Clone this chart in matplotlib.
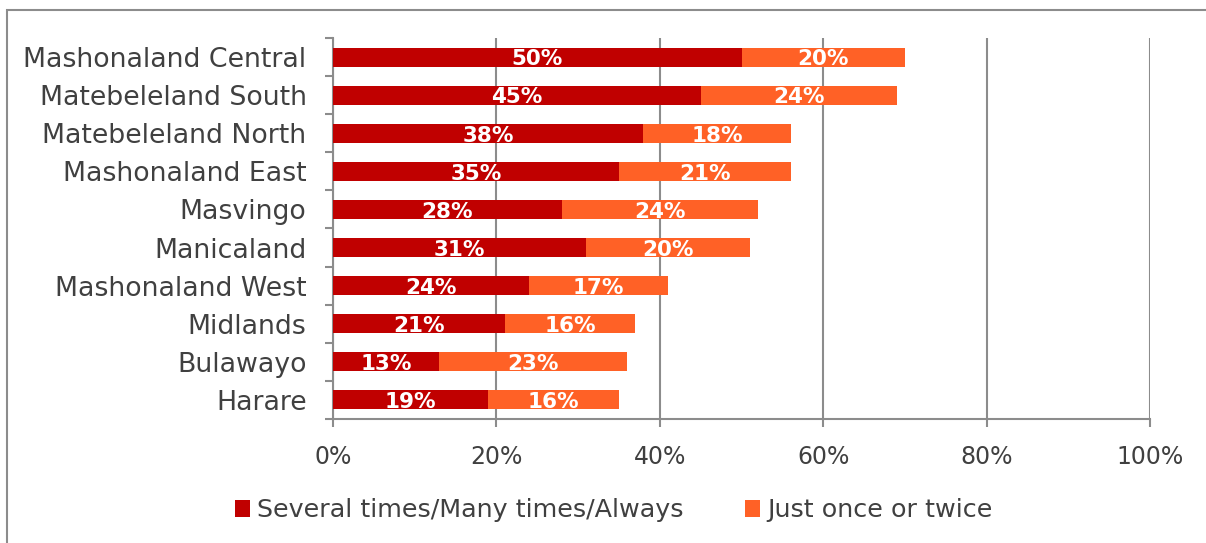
import matplotlib.pyplot as plt
from matplotlib.patches import Rectangle

regions = ['Mashonaland Central', 'Matebeleland South', 'Matebeleland North',
           'Mashonaland East', 'Masvingo', 'Manicaland', 'Mashonaland West',
           'Midlands', 'Bulawayo', 'Harare']
several = [50, 45, 38, 35, 28, 31, 24, 21, 13, 19]
once = [20, 24, 18, 21, 24, 20, 17, 16, 23, 16]
series_names = ['Several times/Many times/Always', 'Just once or twice']
xticks = [0, 20, 40, 60, 80, 100]

dark_red = '#C00000'
orange = '#FF6126'
grey = '#8C8C8C'
text_col = '#404040'

plt.rcParams['font.family'] = ['DejaVu Sans']

fig = plt.figure(figsize=(12.06, 5.43), dpi=100)
ax = fig.add_axes([0.2761, 0.2284, 0.6775, 0.7016])

y = list(range(len(regions)))
ax.barh(y, several, height=0.5, color=dark_red, label=series_names[0], zorder=3)
ax.barh(y, once, left=several, height=0.5, color=orange, label=series_names[1], zorder=3)

for i in y:
    ax.text(several[i] / 2, i + 0.06, f'{several[i]}%', ha='center', va='center',
            color='white', fontsize=15.5, fontweight='bold', zorder=4)
    ax.text(several[i] + once[i] / 2, i + 0.06, f'{once[i]}%', ha='center', va='center',
            color='white', fontsize=15.5, fontweight='bold', zorder=4)

ax.set_xlim(0, 100)
ax.set_ylim(len(regions) - 0.5, -0.5)
ax.set_xticks(xticks)
ax.set_xticklabels([f'{v}%' for v in xticks], fontsize=17, color=text_col)
ax.set_yticks(y)
ax.set_yticklabels(regions, fontsize=19.3, color=text_col)
ax.tick_params(axis='y', length=0, pad=19)
ax.set_yticks([i + 0.5 for i in range(-1, len(regions))], minor=True)
ax.tick_params(axis='y', which='minor', length=6, color=grey, width=1.5)
ax.tick_params(axis='x', length=6, color=grey, width=1.5, pad=13)

ax.grid(axis='x', color=grey, linewidth=1.5, zorder=0)
for side in ['top', 'right']:
    ax.spines[side].set_visible(False)
for side in ['left', 'bottom']:
    ax.spines[side].set_color(grey)
    ax.spines[side].set_linewidth(1.5)

ax.legend(loc='center', bbox_to_anchor=(0.509, 0.06), bbox_transform=fig.transFigure,
          ncol=2, frameon=False, fontsize=18.3, handlelength=0.6, handleheight=0.6,
          handletextpad=0.3, columnspacing=2.4, labelcolor=text_col)

fig.patches.append(Rectangle((7 / 1206, -0.1), 1.2, 1 - 10 / 543 + 0.1,
                             transform=fig.transFigure, fill=False,
                             edgecolor=grey, linewidth=1.5))

fig.savefig('out.png', dpi=100)
